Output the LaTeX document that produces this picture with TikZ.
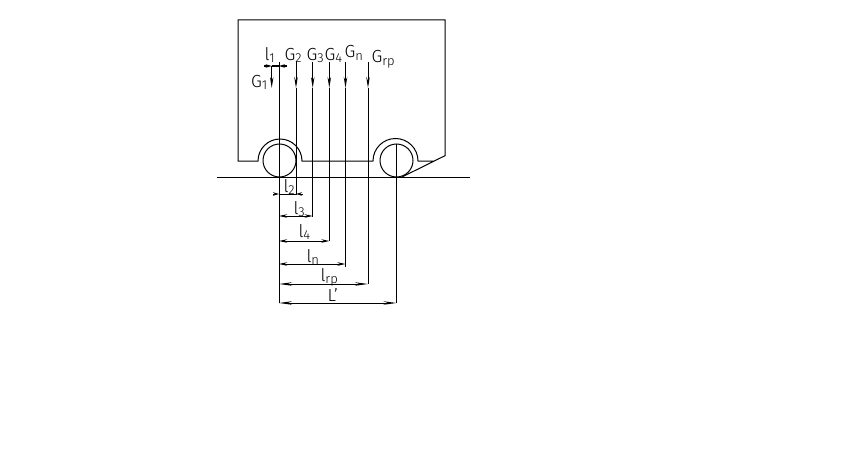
\documentclass[tikz,border=0pt]{standalone}
\usepackage{fontspec}
\setmainfont[UprightFont={* Light}]{Fira Sans}
\usepackage{tikz}
\usetikzlibrary{arrows.meta}
\tikzset{lab/.style={inner sep=0pt,anchor=base west,font=\fontsize{17.5}{17.5}\selectfont},
  wheel/.style={circle,draw,inner sep=0pt,minimum size=33pt},
  tiny/.style={>={Stealth[length=6pt,width=3.5pt]}},
  short/.style={>={Stealth[length=8pt,width=3.5pt]}},
  long/.style={>={Stealth[length=13pt,width=3.5pt]}}}
\newcommand{\sbs}[1]{\raisebox{-2.5pt}{\fontsize{13}{13}\selectfont #1}}

\begin{document}
\begin{tikzpicture}[x=1pt,y=-1pt,line width=1pt,>={Stealth[length=11pt,width=3.5pt]}]
    \useasboundingbox (0,0) rectangle (848,452);

    % body and road
    \draw (434.3,161) -- (418,161) arc[start angle=0,end angle=180,radius=22.5pt] -- (302,161)
          arc[start angle=0,end angle=180,radius=22pt] -- (238,161) -- (238,20) -- (445,20) -- (445,155.7) -- (402,177);
    \coordinate (ra) at (217,177);
    \coordinate (rb) at (470,177);
    \draw (ra) -- (rb);
    \node[wheel] (wa) at (279.5,160.5) {};
    \node[wheel] (wb) at (396.5,160.5) {};

    % top ends, arrow tips and feet of the lines
    \coordinate (t1) at (271.7,66);  \coordinate (p1) at (271.7,88);
    \coordinate (t0) at (279,62);    \coordinate (b0) at (279,303);
    \coordinate (t2) at (296,62);    \coordinate (p2) at (296,88);  \coordinate (b2) at (296,195);
    \coordinate (t3) at (312.7,62);  \coordinate (p3) at (312.7,88);  \coordinate (b3) at (312.7,217);
    \coordinate (t4) at (329.3,62);  \coordinate (p4) at (329.3,88);  \coordinate (b4) at (329.3,241);
    \coordinate (tn) at (345.5,62);  \coordinate (pn) at (345.5,88);  \coordinate (bn) at (345.5,267);
    \coordinate (tr) at (368,62);    \coordinate (pr) at (368,88);  \coordinate (br) at (368,284);
    \coordinate (tw) at (396.5,144); \coordinate (bw) at (396.5,303);

    \draw [->] (t1) -- (p1);
    \draw (t0) -- (b0);
    \draw [->] (t2) -- (p2);
    \draw (p2) -- (b2);
    \draw [->] (t3) -- (p3);
    \draw (p3) -- (b3);
    \draw [->] (t4) -- (p4);
    \draw (p4) -- (b4);
    \draw [->] (tn) -- (pn);
    \draw (pn) -- (bn);
    \draw [->] (tr) -- (pr);
    \draw (pr) -- (br);
    \draw (tw) -- (bw);

    % dimension lines
    \coordinate (l1a) at (264,66);  \coordinate (l1b) at (271.7,66);
    \coordinate (l1c) at (287,66);  \coordinate (l1d) at (279,66);
    \coordinate (l2a) at (273,194); \coordinate (l2b) at (279,194);
    \coordinate (l2c) at (303,194); \coordinate (l2d) at (296,194);
    \coordinate (l3a) at (279,216); \coordinate (l3b) at (312.7,216);
    \coordinate (l4a) at (279,241); \coordinate (l4b) at (329.3,241);
    \coordinate (lna) at (279,264); \coordinate (lnb) at (345.5,264);
    \coordinate (lra) at (279,284); \coordinate (lrb) at (368,284);
    \coordinate (lwa) at (279,303); \coordinate (lwb) at (396.5,303);

    \draw [->,tiny] (l1a) -- (l1b);
    \draw (l1b) -- (l1d);
    \draw [->,tiny] (l1c) -- (l1d);
    \draw [->,tiny] (l2a) -- (l2b);
    \draw (l2b) -- (l2d);
    \draw [->,tiny] (l2c) -- (l2d);
    \draw [<->,short] (l3a) -- (l3b);
    \draw [<->,short] (l4a) -- (l4b);
    \draw [<->,short] (lna) -- (lnb);
    \draw [<->,long] (lra) -- (lrb);
    \draw [<->,long] (lwa) -- (lwb);

    % labels
    \node[lab] (gb) at (250.5,87) {G\sbs{1}};
    \node[lab] (gc) at (284,60) {G\sbs{2}};
    \node[lab] (gd) at (306,60) {G\sbs{3}};
    \node[lab] (ge) at (324,60) {G\sbs{4}};
    \node[lab] (gf) at (344,58) {G\sbs{n}};
    \node[lab] (gg) at (371,63) {G\sbs{rp}};
    \node[lab] (la) at (264,60) {l\sbs{1}};
    \node[lab] (lb) at (283,192) {l\sbs{2}};
    \node[lab] (lc) at (293,214) {l\sbs{3}};
    \node[lab] (ld) at (298,237) {l\sbs{4}};
    \node[lab] (le) at (306,262) {l\sbs{n}};
    \node[lab] (lf) at (320,281) {l\sbs{rp}};
    \node[lab] (lg) at (327,301) {L'};
\end{tikzpicture}
\end{document}
